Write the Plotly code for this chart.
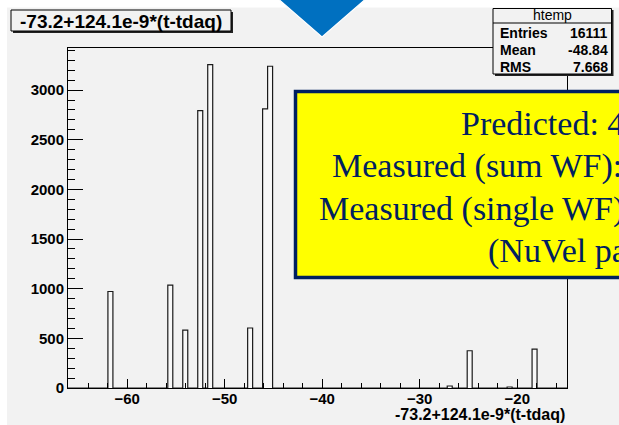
import plotly.graph_objects as go

# ---- data ----
hist_xmin = -66.06
hist_nbins = 100
hist_binwidth = 0.5116
filled_bins = [8, 20, 23, 26, 28, 36, 39, 40, 76, 80, 88, 93]
bin_counts = [972, 1036, 583, 2793, 3256, 604, 2810, 3240, 20, 375, 10, 392]
y_max = 3424

title_text = "-73.2+124.1e-9*(t-tdaq)"
stats_name = "htemp"
stats_labels = ["Entries", "Mean", "RMS"]
stats_values = ["16111", "-48.84", "7.668"]
box_lines = ["Predicted: 4", "Measured (sum WF):", "Measured (single WF)", "(NuVel pa"]

# ---- build histogram outline ----
counts = [0] * hist_nbins
for i, c in zip(filled_bins, bin_counts):
    counts[i] = c
edges = [hist_xmin + k * hist_binwidth for k in range(hist_nbins + 1)]
xs = edges
ys = counts + [0]
xmax = edges[-1]

W, H = 619, 425
ML, MR, MT, MB = 68, 52, 48, 37
PW, PH = W - ML - MR, H - MT - MB


def xp(px):
    return (px - ML) / PW


def yp(py):
    return (H - MB - py) / PH


GREY = "#f2f2f2"
NAVY = "#002060"
SANS = "Liberation Sans, Arial, sans-serif"
SERIF = "Liberation Serif, Times New Roman, serif"

fig = go.Figure()
fig.add_trace(go.Scatter(
    x=xs, y=ys, mode="lines", line=dict(shape="hv", color="#1a1a1a", width=1.2),
    fill="tozeroy", fillcolor="#f8f8f8", hoverinfo="skip", showlegend=False,
))

shapes = []
# white strips (top/left) outside the grey canvas
shapes.append(dict(type="rect", xref="paper", yref="paper", x0=xp(-5), x1=xp(W + 5), y0=yp(-5), y1=yp(7.5),
                   fillcolor="white", line=dict(width=0), layer="above"))
shapes.append(dict(type="rect", xref="paper", yref="paper", x0=xp(-5), x1=xp(7), y0=yp(-5), y1=yp(H + 5),
                   fillcolor="white", line=dict(width=0), layer="above"))
# blue triangle
shapes.append(dict(type="path", xref="paper", yref="paper",
                   path=f"M {xp(276)} {yp(-3)} L {xp(368)} {yp(-3)} L {xp(322)} {yp(37)} Z",
                   fillcolor="#0070c0", line=dict(color="white", width=1.2), layer="above"))
# title box (shadow + box)
shapes.append(dict(type="rect", xref="paper", yref="paper", x0=xp(13), x1=xp(233), y0=yp(33), y1=yp(12),
                   fillcolor="#222", line=dict(width=0), layer="above"))
shapes.append(dict(type="rect", xref="paper", yref="paper", x0=xp(11), x1=xp(231), y0=yp(31), y1=yp(10),
                   fillcolor=GREY, line=dict(color="black", width=1), layer="above"))
# stats box
shapes.append(dict(type="rect", xref="paper", yref="paper", x0=xp(495), x1=xp(613.5), y0=yp(76), y1=yp(10),
                   fillcolor="#222", line=dict(width=0), layer="above"))
shapes.append(dict(type="rect", xref="paper", yref="paper", x0=xp(493), x1=xp(611.5), y0=yp(74), y1=yp(8.5),
                   fillcolor=GREY, line=dict(color="black", width=1), layer="above"))
shapes.append(dict(type="line", xref="paper", yref="paper", x0=xp(493), x1=xp(611.5), y0=yp(23), y1=yp(23),
                   line=dict(color="black", width=1), layer="above"))
# yellow box
shapes.append(dict(type="rect", xref="paper", yref="paper", x0=xp(295.5), x1=xp(660), y0=yp(277.5), y1=yp(91.5),
                   fillcolor="#ffff00", line=dict(color=NAVY, width=3.5), layer="above"))

ann = []
ann.append(dict(xref="paper", yref="paper", x=xp(121), y=yp(21), text=title_text, showarrow=False,
                xanchor="center", yanchor="middle", font=dict(family=SANS, size=19, color="black", weight="bold")))
ann.append(dict(xref="paper", yref="paper", x=1, y=yp(414), text=title_text, showarrow=False,
                xanchor="right", yanchor="middle", font=dict(family=SANS, size=16, color="black", weight="bold")))
ann.append(dict(xref="paper", yref="paper", x=xp(552), y=yp(15.5), text=stats_name, showarrow=False,
                xanchor="center", yanchor="middle", font=dict(family=SANS, size=14, color="black")))
for k, (lab, val) in enumerate(zip(stats_labels, stats_values)):
    yy = 33.5 + k * 16.5
    ann.append(dict(xref="paper", yref="paper", x=xp(498), y=yp(yy), text=lab, showarrow=False,
                    xanchor="left", yanchor="middle", font=dict(family=SANS, size=14, color="black", weight="bold")))
    ann.append(dict(xref="paper", yref="paper", x=xp(610), y=yp(yy), text=val, showarrow=False,
                    xanchor="right", yanchor="middle", font=dict(family=SANS, size=14, color="black", weight="bold")))
line_x = [459, 330, 316.5, 485.5]
line_y = [123.5, 166, 208.5, 250.5]
for t, lx, ly in zip(box_lines, line_x, line_y):
    ann.append(dict(xref="paper", yref="paper", x=xp(lx), y=yp(ly), text=t, showarrow=False,
                    xanchor="left", yanchor="middle", font=dict(family=SERIF, size=34, color=NAVY)))

axis_common = dict(showline=True, linecolor="black", linewidth=1, mirror=True, showgrid=False, zeroline=False,
                   ticks="inside", tickcolor="black", tickwidth=1,
                   tickfont=dict(family=SANS, size=15, color="black", weight="bold"))

fig.update_layout(
    width=W, height=H, margin=dict(l=ML, r=MR, t=MT, b=MB),
    paper_bgcolor=GREY, plot_bgcolor=GREY,
    xaxis=dict(range=[hist_xmin, xmax], tick0=-60, dtick=10, ticklen=9, ticklabelstandoff=-3,
               minor=dict(ticks="inside", ticklen=5, dtick=2, tick0=-60, tickcolor="black"),
               **axis_common),
    yaxis=dict(range=[0, y_max], tick0=0, dtick=500, ticklen=15,
               minor=dict(ticks="inside", ticklen=7, dtick=100, tickcolor="black"),
               **axis_common),
    shapes=shapes, annotations=ann, showlegend=False,
)
# place the figure at the window's top-left corner (no page margin / scrollbars)
fig.write_html(
    "out.html",
    config={"displayModeBar": False},
    post_script="document.body.style.margin='0';document.body.style.overflow='hidden';"
                "document.documentElement.style.overflow='hidden';",
)
